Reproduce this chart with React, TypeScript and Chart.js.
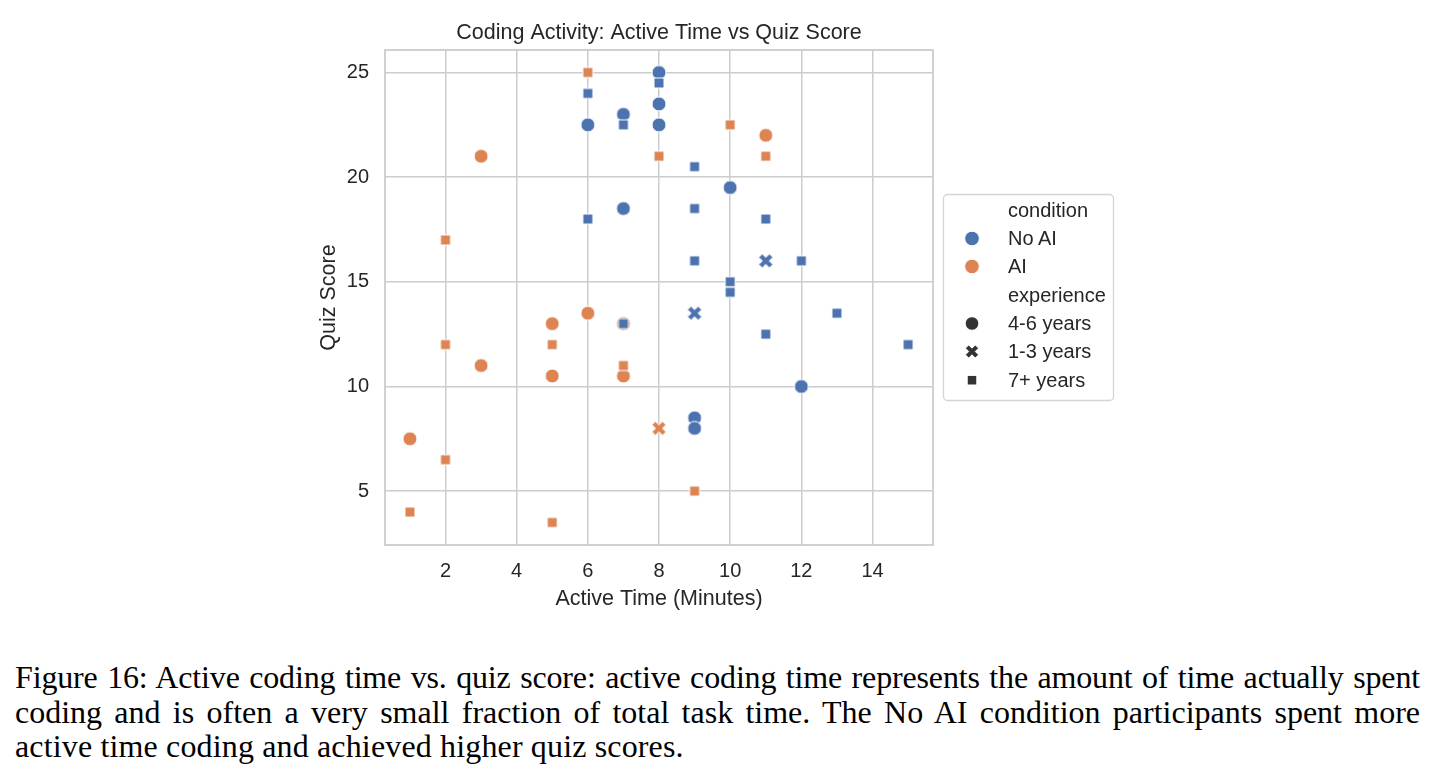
import React, { useEffect, useRef } from "react";
import { Chart, registerables } from "chart.js";

Chart.register(...registerables);

// ---- data ----
const chartTitle = "Coding Activity: Active Time vs Quiz Score";
const xAxisTitle = "Active Time (Minutes)";
const yAxisTitle = "Quiz Score";
const xTickValues = [2, 4, 6, 8, 10, 12, 14];
const yTickValues = [5, 10, 15, 20, 25];
const conditionLabels = ["No AI", "AI"];
const experienceLabels = ["4-6 years", "1-3 years", "7+ years"];

// No AI condition
const noAi46Time = [6, 7, 7, 8, 8, 8, 10, 9, 9, 12];
const noAi46Score = [22.5, 23, 18.5, 25, 23.5, 22.5, 19.5, 8.5, 8, 10];
const noAi13Time = [11, 9];
const noAi13Score = [16, 13.5];
const noAi7Time = [6, 6, 7, 8, 9, 9, 9, 10, 10, 11, 11, 12, 13, 15, 7];
const noAi7Score = [24, 18, 22.5, 24.5, 20.5, 18.5, 16, 15, 14.5, 18, 12.5, 16, 13.5, 12, 13];

// AI condition
const ai46Time = [3, 11, 6, 5, 3, 5, 7, 1, 7];
const ai46Score = [21, 22, 13.5, 13, 11, 10.5, 10.5, 7.5, 13];
const ai13Time = [8];
const ai13Score = [8];
const ai7Time = [6, 8, 10, 11, 2, 2, 5, 7, 2, 1, 5, 9];
const ai7Score = [25, 21, 22.5, 21, 17, 12, 12, 11, 6.5, 4, 3.5, 5];

// ---- style ----
const BLUE = "#4C72B0";
const ORANGE = "#DD8452";
const DARK = "#333333";
const TEXT = "#262626";
const GRID = "#cccccc";
const SANS = "'Liberation Sans', Arial, Helvetica, sans-serif";

const xPlusPts: [number, number][] = [
  [-1, -3], [-1, -1], [-3, -1], [-3, 1], [-1, 1], [-1, 3],
  [1, 3], [1, 1], [3, 1], [3, -1], [1, -1], [1, -3],
];

function xPath(cx: number, cy: number, size: number): string {
  const k = size / 6;
  const c = Math.SQRT1_2;
  return (
    xPlusPts
      .map(([px, py], i) => {
        const x = (px * c - py * c) * k + cx;
        const y = (px * c + py * c) * k + cy;
        return (i === 0 ? "M" : "L") + x.toFixed(2) + " " + y.toFixed(2);
      })
      .join(" ") + " Z"
  );
}

function makeMarker(shape: string, color: string): HTMLCanvasElement {
  const c = document.createElement("canvas");
  c.width = 18;
  c.height = 18;
  const ctx = c.getContext("2d")!;
  const m = 9;
  ctx.fillStyle = color;
  ctx.strokeStyle = "#ffffff";
  ctx.lineWidth = 1;
  if (shape === "circle") {
    ctx.beginPath();
    ctx.arc(m, m, 7, 0, Math.PI * 2);
  } else if (shape === "square") {
    ctx.beginPath();
    ctx.rect(m - 5, m - 5, 10, 10);
  } else {
    const p = new Path2D(xPath(m, m, 15));
    ctx.fill(p);
    ctx.stroke(p);
    return c;
  }
  ctx.fill();
  ctx.stroke();
  return c;
}

function pts(xs: number[], ys: number[]) {
  return xs.map((x, i) => ({ x, y: ys[i] }));
}

const framePlugin = {
  id: "frame",
  beforeDatasetsDraw(chart: any) {
    const { ctx, chartArea } = chart;
    ctx.save();
    ctx.strokeStyle = GRID;
    ctx.lineWidth = 1.8;
    ctx.strokeRect(
      chartArea.left,
      chartArea.top,
      chartArea.right - chartArea.left,
      chartArea.bottom - chartArea.top
    );
    ctx.restore();
  },
};

const centeredTitlePlugin = {
  id: "centeredTitle",
  afterDraw(chart: any) {
    const { ctx, chartArea } = chart;
    ctx.save();
    ctx.fillStyle = TEXT;
    ctx.font = "21.5px " + SANS;
    ctx.textAlign = "center";
    ctx.textBaseline = "middle";
    ctx.fillText(chartTitle, (chartArea.left + chartArea.right) / 2, 33);
    ctx.restore();
  },
};

export default function App() {
  const ref = useRef<HTMLCanvasElement>(null);

  useEffect(() => {
    const ds = (label: string, data: any[], shape: string, color: string, order: number) => ({
      label,
      data,
      pointStyle: makeMarker(shape, color),
      pointRadius: 7,
      pointHoverRadius: 7,
      order,
    });
    const chart = new Chart(ref.current!, {
      type: "scatter",
      data: {
        datasets: [
          ds("No AI 7+", pts(noAi7Time, noAi7Score), "square", BLUE, 0),
          ds("No AI 4-6", pts(noAi46Time, noAi46Score), "circle", BLUE, 1),
          ds("No AI 1-3", pts(noAi13Time, noAi13Score), "x", BLUE, 2),
          ds("AI 7+", pts(ai7Time, ai7Score), "square", ORANGE, 3),
          ds("AI 1-3", pts(ai13Time, ai13Score), "x", ORANGE, 4),
          ds("AI 4-6", pts(ai46Time, ai46Score), "circle", ORANGE, 5),
        ] as any,
      },
      options: {
        animation: false,
        responsive: false,
        devicePixelRatio: 1,
        layout: { padding: { left: 300, right: 502, top: 50, bottom: 0 } },
        plugins: {
          legend: { display: false },
          tooltip: { enabled: false },
          title: { display: false },
        },
        scales: {
          x: {
            type: "linear",
            min: 0.3,
            max: 15.7,
            afterBuildTicks: (s: any) => {
              s.ticks = xTickValues.map((v) => ({ value: v }));
            },
            afterFit: (s: any) => {
              s.height = 75;
            },
            grid: { color: GRID, lineWidth: 1.5, drawTicks: false },
            border: { display: false },
            ticks: {
              color: TEXT,
              font: { family: SANS, size: 20 },
              padding: 14,
              autoSkip: false,
              maxRotation: 0,
            },
            title: {
              display: true,
              text: xAxisTitle,
              color: TEXT,
              font: { family: SANS, size: 21.5 },
              padding: { top: 0, bottom: 8 },
            },
          },
          y: {
            type: "linear",
            min: 2.425,
            max: 26.075,
            afterBuildTicks: (s: any) => {
              s.ticks = yTickValues.map((v) => ({ value: v }));
            },
            afterFit: (s: any) => {
              s.width = 85;
            },
            grid: { color: GRID, lineWidth: 1.5, drawTicks: false },
            border: { display: false },
            ticks: {
              color: TEXT,
              font: { family: SANS, size: 20 },
              padding: 16,
              autoSkip: false,
            },
            title: {
              display: true,
              text: yAxisTitle,
              color: TEXT,
              font: { family: SANS, size: 21.5 },
              padding: { top: 16, bottom: 0 },
            },
          },
        },
      } as any,
      plugins: [framePlugin, centeredTitlePlugin],
    });
    return () => chart.destroy();
  }, []);

  const legendBaselines = [216.7, 245, 273, 301.7, 330, 358, 386.7];
  const mx = 972;

  return (
    <div style={{ position: "absolute", left: 0, top: 0, width: 1435, height: 780, background: "#fff" }}>
      <canvas
        ref={ref}
        width={1435}
        height={620}
        style={{ position: "absolute", left: 0, top: 0, width: 1435, height: 620 }}
      />
      <svg
        style={{ position: "absolute", left: 930, top: 185 }}
        width={200}
        height={230}
        viewBox="930 185 200 230"
      >
        <rect x={943.5} y={194.5} width={170} height={206} rx={4} ry={4} fill="#ffffff" stroke="#d4d4d4" strokeWidth={1.3} />
        <g fontFamily={SANS} fontSize={20} fill={TEXT}>
          <text x={1008} y={legendBaselines[0]}>condition</text>
          <text x={1008} y={legendBaselines[1]}>{conditionLabels[0]}</text>
          <text x={1008} y={legendBaselines[2]}>{conditionLabels[1]}</text>
          <text x={1008} y={legendBaselines[3]}>experience</text>
          <text x={1008} y={legendBaselines[4]}>{experienceLabels[0]}</text>
          <text x={1008} y={legendBaselines[5]}>{experienceLabels[1]}</text>
          <text x={1008} y={legendBaselines[6]}>{experienceLabels[2]}</text>
        </g>
        <circle cx={mx} cy={legendBaselines[1] - 6.5} r={7.3} fill={BLUE} stroke="#fff" strokeWidth={1} />
        <circle cx={mx} cy={legendBaselines[2] - 6.5} r={7.3} fill={ORANGE} stroke="#fff" strokeWidth={1} />
        <circle cx={mx} cy={legendBaselines[4] - 6.5} r={6.8} fill={DARK} stroke="#fff" strokeWidth={1} />
        <path d={xPath(mx, legendBaselines[5] - 6.5, 14)} fill={DARK} stroke="#fff" strokeWidth={1} />
        <rect x={mx - 4.8} y={legendBaselines[6] - 6.5 - 4.8} width={9.6} height={9.6} fill={DARK} stroke="#fff" strokeWidth={1} />
      </svg>
      <div
        style={{
          position: "absolute",
          left: 15,
          top: 660,
          width: 1405,
          fontFamily: "'Liberation Serif', 'Times New Roman', serif",
          fontSize: 32,
          lineHeight: "34.5px",
          color: "#000",
        }}
      >
        <div style={{ textAlign: "justify", textAlignLast: "justify", whiteSpace: "nowrap", letterSpacing: "-0.15px" }}>
          Figure 16: Active coding time vs. quiz score: active coding time represents the amount of time actually spent
        </div>
        <div style={{ textAlign: "justify", textAlignLast: "justify", whiteSpace: "nowrap" }}>
          coding and is often a very small fraction of total task time. The No AI condition participants spent more
        </div>
        <div style={{ textAlign: "left", whiteSpace: "nowrap", letterSpacing: "0.15px" }}>
          active time coding and achieved higher quiz scores.
        </div>
      </div>
    </div>
  );
}
